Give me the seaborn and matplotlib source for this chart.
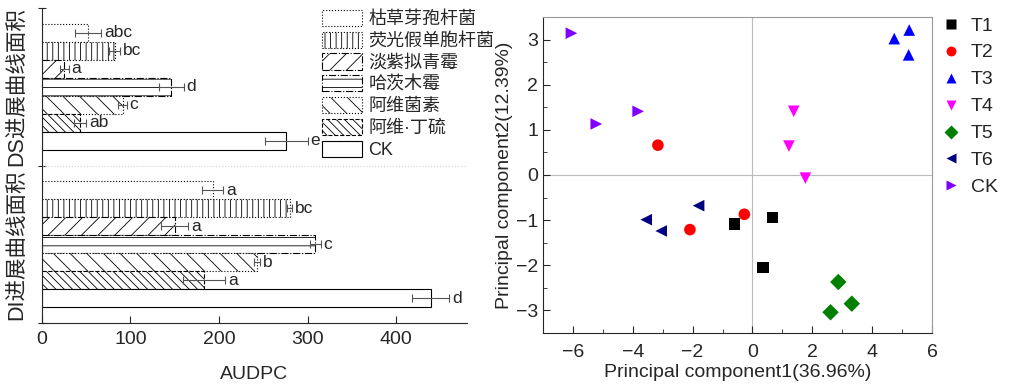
import pandas as pd
import numpy as np
import matplotlib
matplotlib.use('Agg')
import matplotlib.pyplot as plt
from matplotlib.ticker import MultipleLocator
import seaborn as sns

# ---- data: AUDPC bars ----
treatments = ['枯草芽孢杆菌', '荧光假单胞杆菌', '淡紫拟青霉', '哈茨木霉', '阿维菌素', '阿维·丁硫', 'CK']
indices = ['DS', 'DI']
ds_mean = [52, 82, 25, 146, 91, 43, 276]
ds_err = [15, 6, 5, 14, 5, 7, 24]
ds_sig = ['abc', 'bc', 'a', 'd', 'c', 'ab', 'e']
di_mean = [193, 280, 150, 309, 243, 183, 439]
di_err = [12, 3, 15, 6, 3, 24, 21]
di_sig = ['a', 'bc', 'a', 'c', 'b', 'a', 'd']
index_labels = ['DS进展曲线面积', 'DI进展曲线面积']

# ---- data: PCA scores ----
groups = ['T1'] * 3 + ['T2'] * 3 + ['T3'] * 3 + ['T4'] * 3 + ['T5'] * 3 + ['T6'] * 3 + ['CK'] * 3
pc1 = [-0.60, 0.67, 0.36, -3.16, -2.09, -0.27, 4.74, 5.24, 5.22, 1.38, 1.22, 1.77,
       2.87, 3.32, 2.61, -3.55, -3.05, -1.80, -6.05, -5.22, -3.82]
pc2 = [-1.09, -0.94, -2.05, 0.66, -1.21, -0.87, 3.02, 3.21, 2.66, 1.41, 0.64, -0.07,
       -2.37, -2.85, -3.04, -0.99, -1.24, -0.68, 3.14, 1.13, 1.41]
group_order = ['T1', 'T2', 'T3', 'T4', 'T5', 'T6', 'CK']

sns.set_style('ticks')
plt.rcParams['font.family'] = ['Liberation Sans', 'Noto Sans CJK SC', 'DejaVu Sans']
plt.rcParams['hatch.linewidth'] = 0.6

fig = plt.figure(figsize=(10.14, 3.85), dpi=100)
ax1 = fig.add_axes([0.0414, 0.161, 0.419, 0.818])
ax2 = fig.add_axes([0.5355, 0.135, 0.3836, 0.821])

# ---- left: horizontal bars ----
bars = pd.DataFrame({
    'index': np.repeat(indices, len(treatments)),
    '处理': treatments * 2,
    'AUDPC': ds_mean + di_mean,
})
sns.barplot(data=bars, y='index', x='AUDPC', hue='处理', hue_order=treatments,
            order=indices, orient='h', width=0.8, errorbar=None,
            palette=['white'] * len(treatments), edgecolor='black', linewidth=0.8,
            ax=ax1, legend=False)

hatches = ['', '|||', '//', '--', '\\\\', '\\\\\\\\', '']
styles = [':', ':', '-.', '-.', ':', '--', '-']
errs = [ds_err, di_err]
sigs = [ds_sig, di_sig]
means = [ds_mean, di_mean]
bar_conts = list(ax1.containers)
for i, cont in enumerate(bar_conts):
    for j, p in enumerate(cont.patches):
        p.set_hatch(hatches[i])
        if hasattr(p, 'set_hatchcolor'):
            p.set_hatchcolor('#555555')
        p.set_linestyle(styles[i])
        yc = p.get_y() + p.get_height() / 2
        m = means[j][i]
        e = errs[j][i]
        ax1.errorbar(m, yc, xerr=e, fmt='none', ecolor='#555555', elinewidth=0.8,
                     capsize=3, capthick=0.8)
        ax1.annotate(sigs[j][i], (m + e, yc), xytext=(2, 0), textcoords='offset points',
                     va='center', ha='left', fontsize=12.5)

handles = [cont.patches[0] for cont in bar_conts]
leg = ax1.legend(handles, treatments, loc='upper left', bbox_to_anchor=(0.66, 0.995),
                 frameon=False, fontsize=13, handlelength=2.2, handleheight=1.0,
                 labelspacing=0.2, handletextpad=0.35, borderaxespad=0, borderpad=0)

ax1.axhline(0.5, color='lightgray', linestyle=':', linewidth=0.8)
ax1.set_xlim(0, 480)
ax1.set_ylim(1.5, -0.5)
ax1.set_yticks([-0.5, 0.5, 1.5])
ax1.set_yticklabels([])
ax1.tick_params(axis='y', direction='inout', length=6)
ax1.tick_params(axis='x', direction='in', length=5, labelsize=14, pad=6)
ax1.set_xticks([0, 100, 200, 300, 400])
ax1.set_xlabel('AUDPC', fontsize=14, labelpad=13)
ax1.set_ylabel('')
for k, lab in enumerate(index_labels):
    ax1.text(-0.06, k, lab, transform=ax1.get_yaxis_transform(), rotation=90,
             ha='center', va='center', fontsize=15.5)
sns.despine(ax=ax1)

# ---- right: PCA scatter ----
pca = pd.DataFrame({'group': groups, 'PC1': pc1, 'PC2': pc2})
palette = {'T1': 'black', 'T2': 'red', 'T3': 'blue', 'T4': 'magenta',
           'T5': 'green', 'T6': 'navy', 'CK': '#8000ff'}
markers = {'T1': 's', 'T2': 'o', 'T3': '^', 'T4': 'v', 'T5': 'D', 'T6': '<', 'CK': '>'}
sns.scatterplot(data=pca, x='PC1', y='PC2', hue='group', style='group',
                hue_order=group_order, style_order=group_order,
                palette=palette, markers=markers, s=70, edgecolor='none', ax=ax2)
ax2.axhline(0, color='#bbbbbb', linewidth=0.8, zorder=0)
ax2.axvline(0, color='#bbbbbb', linewidth=0.8, zorder=0)
ax2.set_xlim(-7, 6)
ax2.set_ylim(-3.5, 3.5)
ax2.xaxis.set_major_locator(MultipleLocator(2))
ax2.xaxis.set_minor_locator(MultipleLocator(1))
ax2.yaxis.set_major_locator(MultipleLocator(1))
ax2.yaxis.set_minor_locator(MultipleLocator(0.5))
ax2.tick_params(which='major', direction='in', length=5, labelsize=14)
ax2.tick_params(axis='x', which='major', pad=8)
ax2.tick_params(which='minor', direction='in', length=3)
ax2.set_xlabel('Principal component1(36.96%)', fontsize=14, labelpad=2)
ax2.set_ylabel('Principal component2(12.39%)', fontsize=14, labelpad=2)
for s in ['top', 'right']:
    ax2.spines[s].set_color('#999999')
ax2.legend(loc='upper left', bbox_to_anchor=(1.025, 1.0), frameon=False, fontsize=14,
           handlelength=1.0, handletextpad=0.5, labelspacing=0.48, markerscale=0.85,
           borderaxespad=0, borderpad=0)

fig.savefig('out.png', dpi=100)
